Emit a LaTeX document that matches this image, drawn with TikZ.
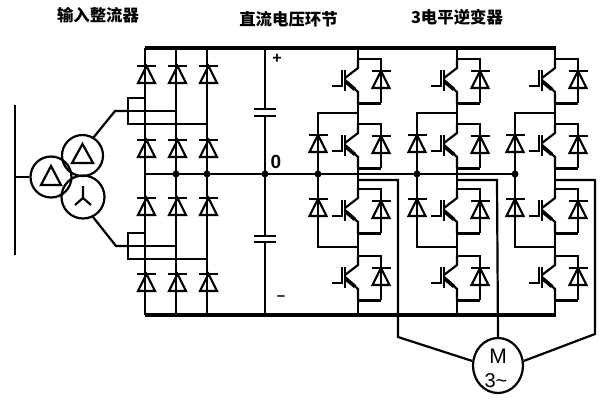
\documentclass[tikz,border=0pt]{standalone}
\usepackage{fontspec}
\setmainfont{Liberation Sans}
\newfontfamily\cjk{Noto Sans CJK SC}
\usetikzlibrary{positioning}
\usetikzlibrary{shapes,shapes.geometric}
\tikzstyle{wire} = [draw, line width=2.2pt]
\tikzstyle{rail} = [draw, line width=3.2pt]
\tikzstyle{title} = [draw=none, fill=none, inner sep=0pt, text centered, font=\cjk\bfseries\fontsize{16.4}{17}\selectfont]
\tikzstyle{sign} = [draw=none, fill=none, inner sep=0pt, text centered, font=\bfseries\fontsize{19}{19}\selectfont]
\tikzstyle{dot} = [circle, fill, inner sep=0pt, minimum size=7pt]
\tikzstyle{winding} = [circle, draw, line width=2.2pt, inner sep=0pt, minimum size=41pt]
\tikzset{
  diode/.pic={
    \draw [line width=2.2pt] (-9.5,0) -- (9.5,0);
    \draw [line width=2.2pt, line join=miter] (0,0) -- (8.5,17) -- (-8.5,17) -- cycle;
  },
  igbt/.pic={
    \coordinate (top) at (0,0);
    \coordinate (bot) at (0,44);
    \draw [wire] (0,0) -- (23,0) -- (23,44);
    \draw [wire, line width=3pt] (23,44) -- (0,44);
    \draw [wire] (0,0) -- (0,9) -- (-13,19);
    \draw [wire] (-13,11) -- (-13,32);
    \draw [wire] (-16,11) -- (-16,27) -- (-26,27);
    \draw [wire] (-13,21) -- (0,33) -- (0,44);
    \draw [line width=3.6pt] (-12,23) -- (-3,30.5);
    \pic at (23,12) {diode};
  }
}
\begin{document}
\begin{tikzpicture}[x=1pt, y=-1pt]
	\useasboundingbox (0,0) rectangle (600,400);

	% title nodes
	\node [title] (T1) at (98,15) {输入整流器};
	\node [title] (T2) at (288.5,19) {直流电压环节};
	\node [title] (T3) at (457,17) {3电平逆变器};
	\node [sign, font=\bfseries\fontsize{16}{16}\selectfont] (Plus) at (277,59) {+};
	\node [sign] (Zero) at (276,162) {0};
	\node [sign, font=\bfseries\fontsize{15}{15}\selectfont] (Minus) at (281,298) {–};

	% transformer
	\coordinate (B1) at (15,105);
	\coordinate (B2) at (15,255);
	\coordinate (B3) at (15,177);
	\node [winding] (W1) at (51,177) {};
	\node [winding] (W2) at (82.5,155.5) {};
	\node [winding, minimum size=43pt] (W3) at (83,197) {};
	\draw [wire] (B1) -- (B2);
	\draw [wire] (B3) -- (W1);
	\draw [wire] (41,185) -- (51,166) -- (61,185) -- cycle;
	\draw [wire] (72,163) -- (82.5,144) -- (93,163) -- cycle;
	\draw [wire] (83,198) -- (83,186) (83,198) -- (75,205) (83,198) -- (91,205);

	% rails
	\coordinate (R1) at (145,48);
	\coordinate (R2) at (556,48);
	\coordinate (R3) at (145,315);
	\coordinate (R4) at (556,315);
	\coordinate (R5) at (145,174);
	\coordinate (R6) at (515,174);
	\draw [rail] (R1) -- (R2);
	\draw [rail] (R3) -- (R4);
	\draw [wire] (R5) -- (R6);

	% rectifier
	\foreach \x in {145,176,207} {
		\draw [wire] (\x,48) -- (\x,315);
		\foreach \y in {66,140,198,274}
			\pic at (\x+1.5,\y) {diode};
	}
	\foreach \y/\k in {111/U,246/L} {
		\coordinate (\k1) at (128,\y);
		\coordinate (\k2) at (176,\y);
		\draw [wire] (\k1) -- (\k2);
		\draw [wire] (145,\y-13) -| (\k1) |- (207,\y+13);
	}
	\draw [wire] (W2) ++(11,-18) -- (115,111) -- (U1);
	\draw [wire] (W3) ++(10,20) -- (116,246) -- (L1);

	% capacitor
	\draw [wire] (265,48) -- (265,109);
	\draw [wire] (265,116) -- (265,236);
	\draw [wire] (265,242) -- (265,315);
	\foreach \y in {109,116,236,242}
		\draw [line width=2.6pt] (254,\y) -- (276,\y);

	% inverter legs
	\foreach \x/\k in {358/a,457/b,555/c} {
		\pic (\k1) at (\x,59) {igbt};
		\pic (\k2) at (\x,124) {igbt};
		\pic (\k3) at (\x,189) {igbt};
		\pic (\k4) at (\x,256) {igbt};
		\draw [wire] (\x,48) -- (\k1top);
		\draw [wire] (\k1bot) -- (\k2top);
		\draw [wire] (\k2bot) -- (\k3top);
		\draw [wire] (\k3bot) -- (\k4top);
		\draw [wire] (\k4bot) -- (\x,315);
		% clamp diodes
		\draw [wire] (\x,113) -| (\x-40,174) -- (\x-40,247) -- (\x,247);
		\pic at (\x-40,135) {diode};
		\pic at (\x-40,199) {diode};
		\coordinate (\k O) at (\x,180);
	}

	% junction dots
	\foreach \x/\k in {176/1,207/2,265/3,318/4,417/5,515/6}
		\node [dot] (D\k) at (\x,174) {};

	% motor
	\node [ellipse, draw, line width=2.2pt, inner sep=0pt, minimum width=50pt, minimum height=55pt] (M) at (498,365.5) {};
	\node [inner sep=0pt, font=\fontsize{21}{21}\selectfont] (M1) at (498,356) {M};
	\node [inner sep=0pt, font=\fontsize{20}{20}\selectfont] (M2) at (496,381) {3\textasciitilde};
	\draw [wire] (aO) -- (398,180) -- (398,337) -- (M.170);
	\draw [wire] (bO) -- (497,180) -- (M.north);
	\draw [wire] (cO) -- (595,180) -- (595,334) -- (M.10);
\end{tikzpicture}
\end{document}
